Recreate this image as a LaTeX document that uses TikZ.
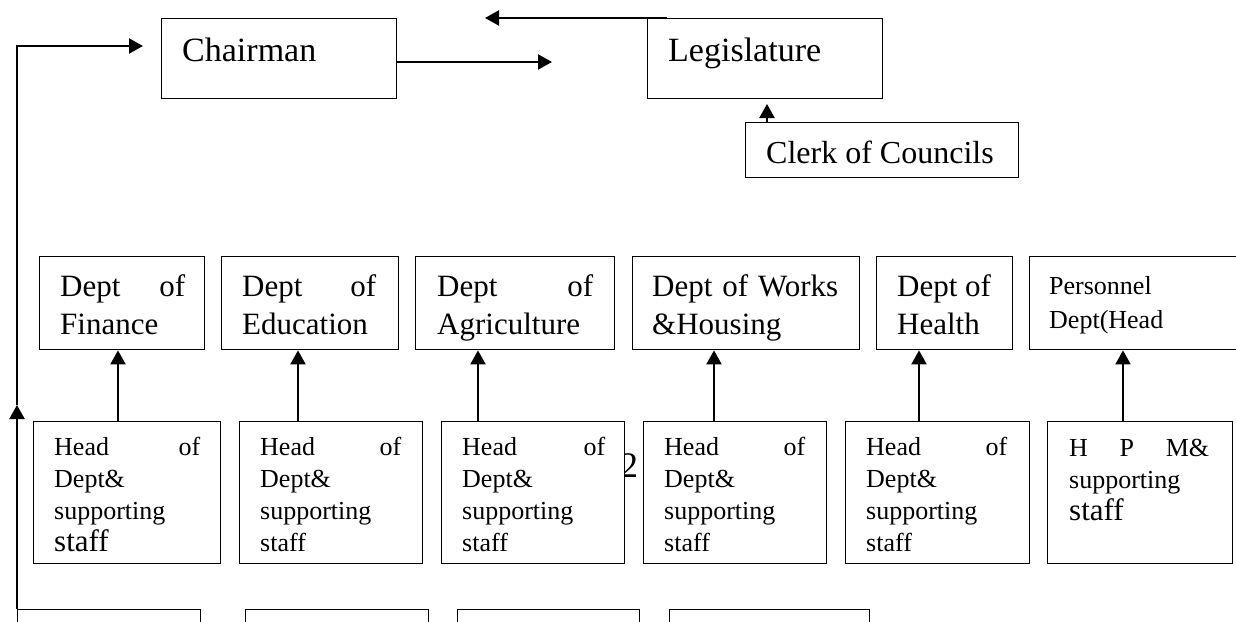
\documentclass[tikz,border=0pt]{standalone}
\usepackage{fontspec}
\setmainfont{Liberation Serif}
\usetikzlibrary{arrows.meta,calc}

\newcommand{\fsTop}{\fontsize{34}{38}\selectfont}
\newcommand{\fsClerk}{\fontsize{32}{38}\selectfont}
\newcommand{\fsDept}{\fontsize{31}{38}\selectfont}
\newcommand{\fsPer}{\fontsize{26}{34}\selectfont}
\newcommand{\fsHead}{\fontsize{26}{32}\selectfont}
\newcommand{\fsNum}{\fontsize{36}{40}\selectfont}

\begin{document}
\begin{tikzpicture}[x=1pt,y=-1pt,
  box/.style 2 args={draw,fill=white,line width=1.4pt,inner sep=0pt,
    anchor=north west,minimum width=#1pt,minimum height=#2pt},
  txt/.style={inner sep=0pt,anchor=north west,align=left},
  arr/.style={line width=2.2pt,-{Triangle[length=14pt,width=15pt]}}]

\useasboundingbox (0,0) rectangle (1236,621);
\clip (0,0) rectangle (1236,621);

% page number showing through
\node[txt,font=\fsNum] (pg) at (620,453) {2};

% top level
\node[box={235}{80}] (chair) at (161,18) {};
\node[box={235}{80}] (legis) at (647,18) {};
\node[box={273}{55}] (clerk) at (745,122) {};
\node[txt,font=\fsTop] (tChair) at (182,38) {Chairman};
\node[txt,font=\fsTop] (tLegis) at (668,38) {Legislature};
\node[txt,font=\fsClerk] (tClerk) at (766,141) {Clerk of Councils};

% departments
\node[box={165}{93}] (dFin) at (39,256) {};
\node[box={177}{93}] (dEdu) at (221,256) {};
\node[box={199}{93}] (dAgr) at (415,256) {};
\node[box={227}{93}] (dWrk) at (632,256) {};
\node[box={136}{93}] (dHlt) at (876,256) {};
\node[box={230}{93}] (dPer) at (1029,256) {};
\node[txt,font=\fsDept,text width=125pt] (tFin) at (60,274) {Dept\hfill of\\Finance};
\node[txt,font=\fsDept,text width=134pt] (tEdu) at (242,274) {Dept\hfill of\\Education};
\node[txt,font=\fsDept,text width=156pt] (tAgr) at (437,274) {Dept\hfill of\\Agriculture};
\node[txt,font=\fsDept,text width=186pt] (tWrk) at (652,274) {Dept\hfill of\hfill Works\\\&Housing};
\node[txt,font=\fsDept] (tHlt) at (897,274) {Dept of\\Health};
\node[txt,font=\fsPer] (tPer) at (1049,276) {Personnel\\Dept(Head};

% heads of department
\node[box={187}{142}] (hFin) at (33,421) {};
\node[box={183}{142}] (hEdu) at (239,421) {};
\node[box={183}{142}] (hAgr) at (441,421) {};
\node[box={183}{142}] (hWrk) at (643,421) {};
\node[box={184}{142}] (hHlt) at (845,421) {};
\node[box={185}{142}] (hPer) at (1047,421) {};
\node[txt,font=\fsHead,text width=146pt] (tHFin) at (54,437) {Head\hfill of\\Dept\&\\supporting\\{\fsDept staff}};
\node[txt,font=\fsHead,text width=141pt] (tHEdu) at (260,437) {Head\hfill of\\Dept\&\\supporting\\staff};
\node[txt,font=\fsHead,text width=143pt] (tHAgr) at (462,437) {Head\hfill of\\Dept\&\\supporting\\staff};
\node[txt,font=\fsHead,text width=141pt] (tHWrk) at (664,437) {Head\hfill of\\Dept\&\\supporting\\staff};
\node[txt,font=\fsHead,text width=141pt] (tHHlt) at (866,437) {Head\hfill of\\Dept\&\\supporting\\staff};
\node[txt,font=\fsHead,text width=140pt] (tHPer) at (1069,439) {H\hfill P\hfill M\&\\supporting\\{\fsDept staff}};

% lower row
\node[box={183}{40}] (b1) at (17,609) {};
\node[box={183}{40}] (b2) at (245,609) {};
\node[box={182}{40}] (b3) at (457,609) {};
\node[box={200}{40}] (b4) at (669,609) {};

\coordinate (tipL) at (17,405);
\coordinate (chairIn) at (143,46);
\coordinate (legIn) at (552,62);
\coordinate (legOut) at (667,18);
\coordinate (chairBack) at (485,18);

\draw[arr] (b1.north west) -- (tipL);
\draw[arr] (tipL) |- (chairIn);
\draw[arr] (chair.east |- 0,62) -- (legIn);
\draw[arr] (legOut) -- (chairBack);
\draw[arr] (clerk.north -| 767,0) -- ++(0,-18);

\draw[arr] (hFin.north -| 118,0) -- (dFin.south -| 118,0);
\draw[arr] (hEdu.north -| 298,0) -- (dEdu.south -| 298,0);
\draw[arr] (hAgr.north -| 478,0) -- (dAgr.south -| 478,0);
\draw[arr] (hWrk.north -| 714,0) -- (dWrk.south -| 714,0);
\draw[arr] (hHlt.north -| 919,0) -- (dHlt.south -| 919,0);
\draw[arr] (hPer.north -| 1123,0) -- (dPer.south -| 1123,0);

\end{tikzpicture}
\end{document}
